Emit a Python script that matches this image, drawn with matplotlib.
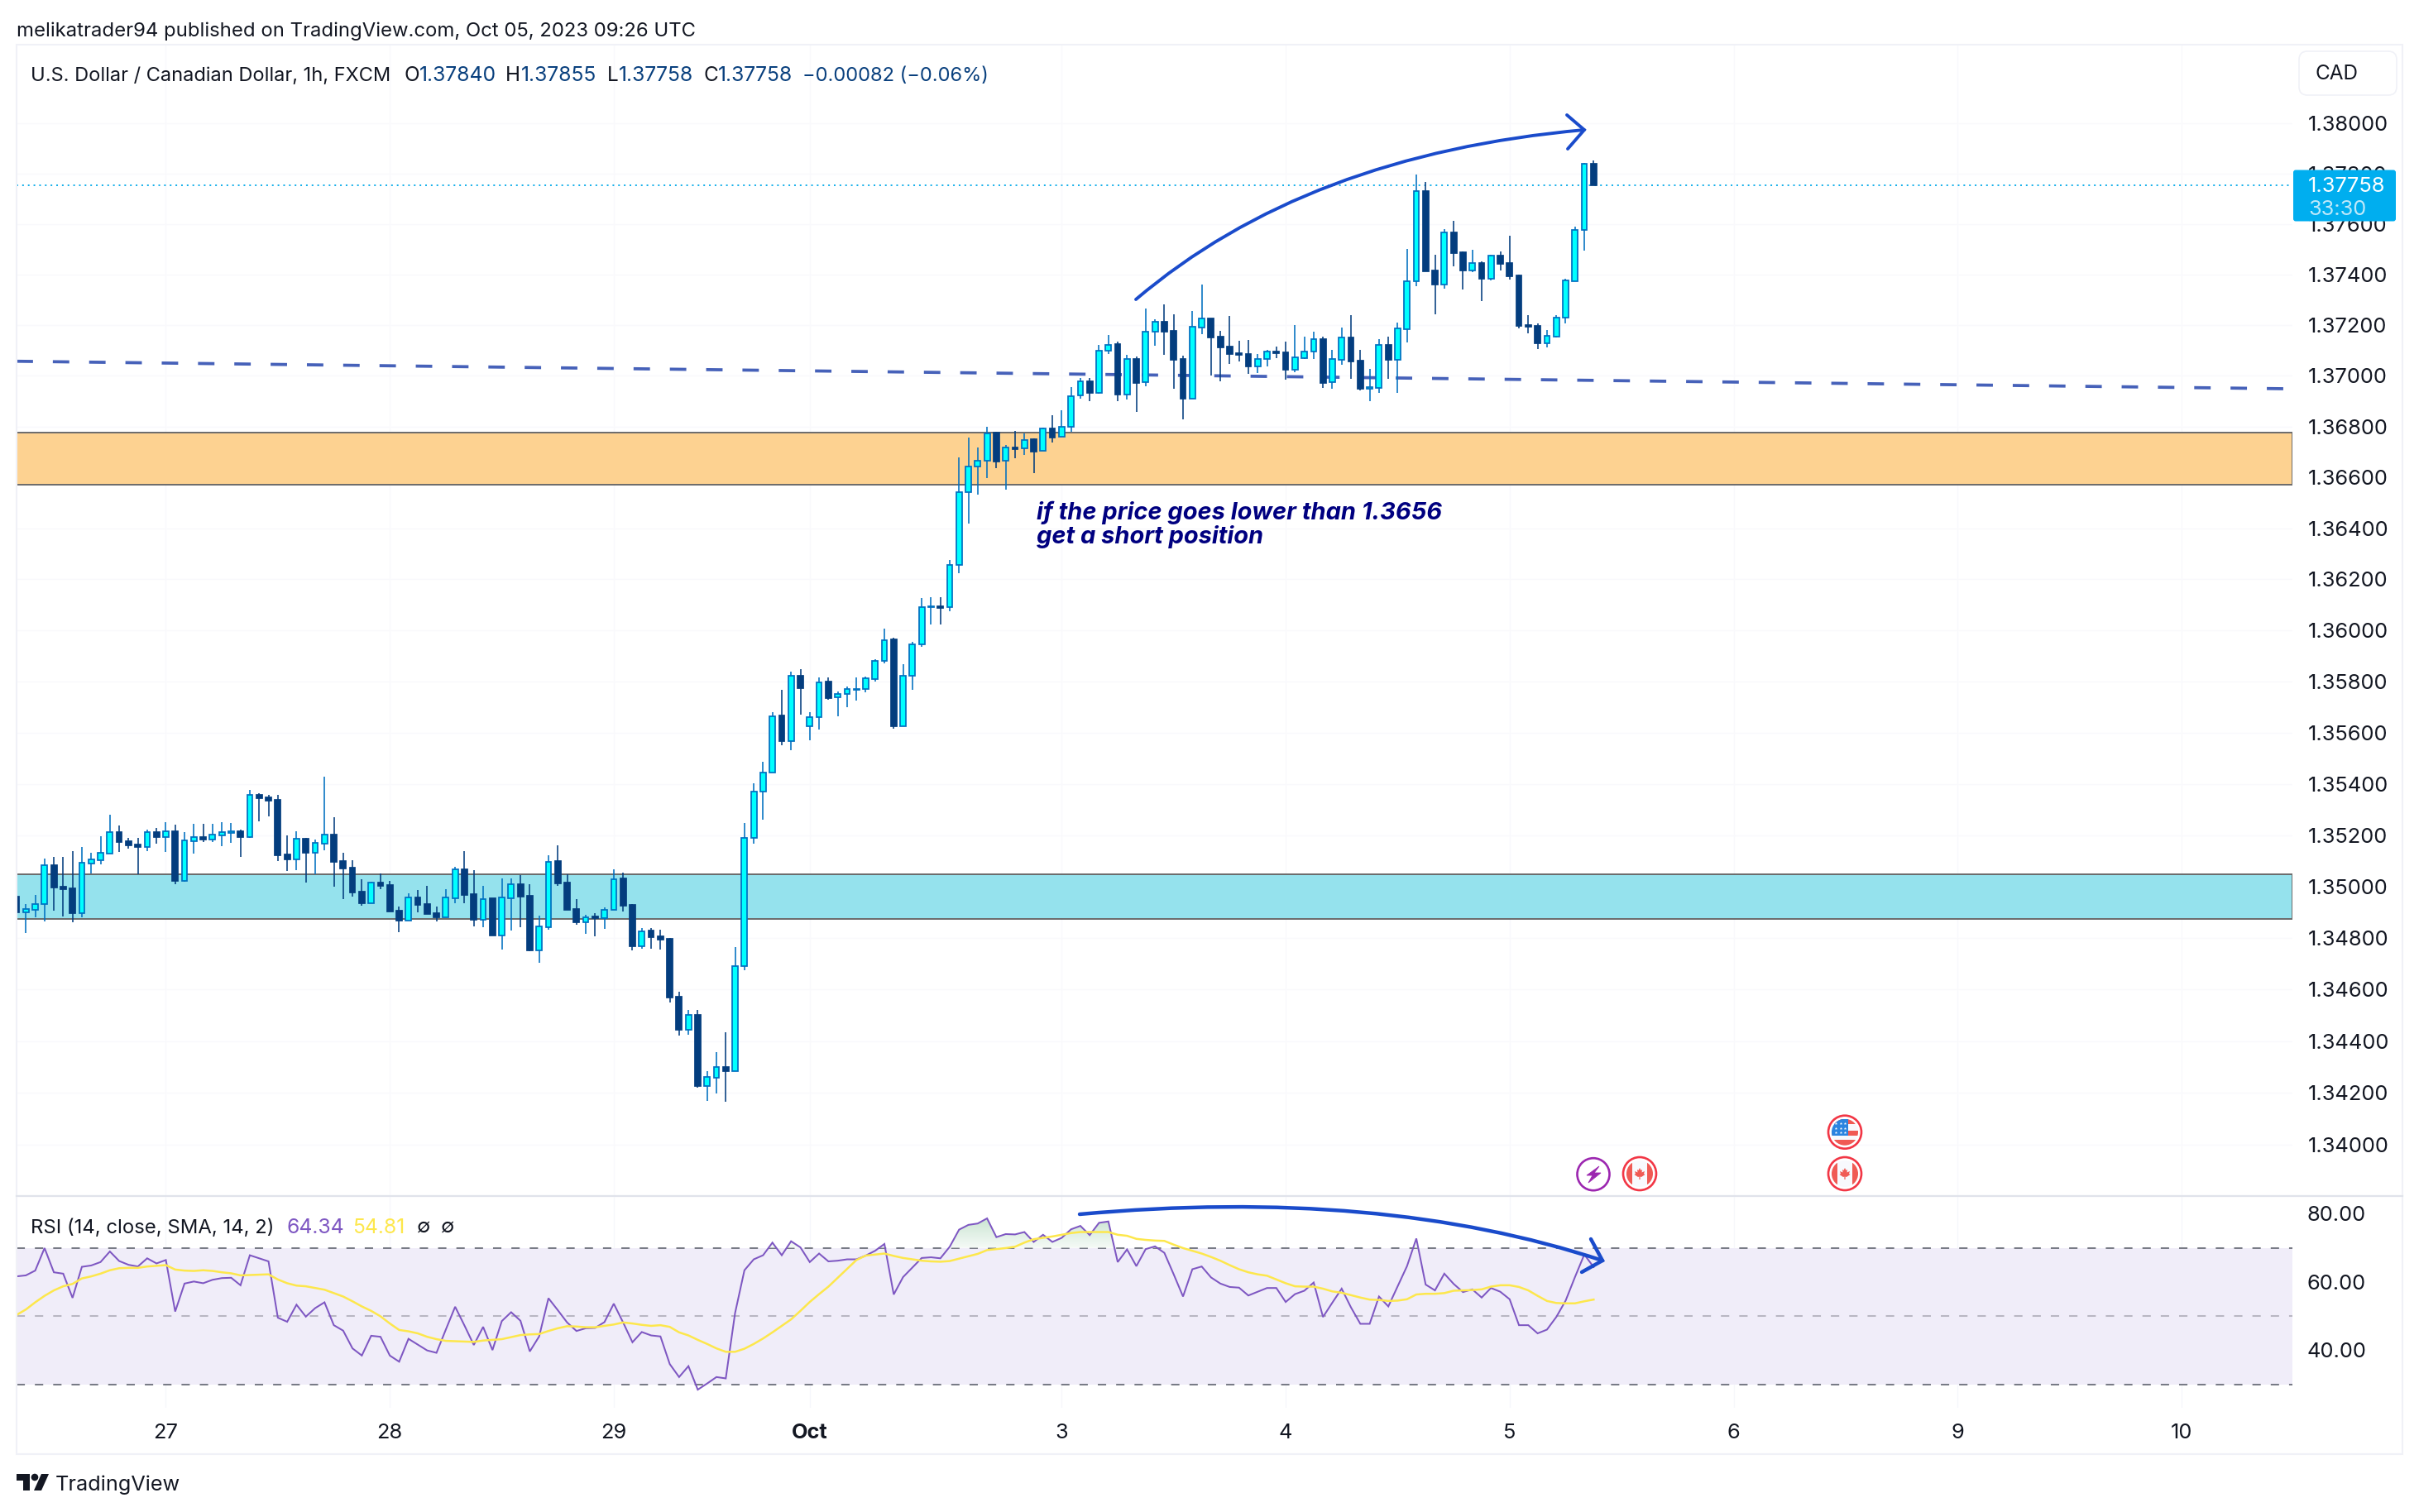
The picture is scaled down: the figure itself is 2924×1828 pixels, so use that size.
import numpy as np
import matplotlib
matplotlib.use("Agg")
import matplotlib.pyplot as plt
from matplotlib.patches import Rectangle, Circle, FancyBboxPatch, PathPatch, Polygon
from matplotlib.path import Path
from matplotlib.ticker import NullFormatter, NullLocator

plt.rcParams['font.family'] = ['Inter', 'DejaVu Sans']

W, H = 2924, 1828

# ---------- data ----------
opens = [1.34971,1.34911,1.34921,1.34944,1.35096,1.35010,1.35003,1.34907,1.35102,1.35114,
1.35141,1.35224,1.35188,1.35175,1.35167,1.35224,1.35204,1.35227,1.35033,1.35188,
1.35204,1.35195,1.35211,1.35221,1.35227,1.35204,1.35370,1.35360,1.35350,1.35136,
1.35117,1.35198,1.35143,1.35178,1.35214,1.35110,1.35084,1.34990,1.34945,1.35026,
1.35016,1.34916,1.34877,1.34968,1.34942,1.34906,1.34890,1.34966,1.35078,1.34981,
1.34880,1.34965,1.34819,1.34965,1.35020,1.34974,1.34760,1.34851,1.35110,1.35026,
1.34922,1.34871,1.34893,1.34887,1.34919,1.35042,1.34939,1.34777,1.34838,1.34816,
1.34806,1.34579,1.34449,1.34508,1.34229,1.34261,1.34304,1.34287,1.34699,1.35203,
1.35384,1.35456,1.35680,1.35582,1.35838,1.35639,1.35673,1.35813,1.35751,1.35764,
1.35781,1.35783,1.35824,1.35896,1.35978,1.35640,1.35838,1.35958,1.36104,1.36110,
1.36104,1.36269,1.36554,1.36655,1.36680,1.36788,1.36677,1.36729,1.36726,1.36763,
1.36716,1.36805,1.36771,1.36812,1.36933,1.36988,1.36945,1.37110,1.37135,1.36939,
1.37076,1.36986,1.37185,1.37223,1.37187,1.37077,1.36922,1.37201,1.37235,1.37164,
1.37125,1.37100,1.37096,1.37048,1.37076,1.37106,1.37103,1.37036,1.37081,1.37105,
1.37155,1.36986,1.37075,1.37161,1.37070,1.36960,1.36963,1.37132,1.37074,1.37195,
1.37380,1.37735,1.37424,1.37370,1.37573,1.37495,1.37425,1.37453,1.37391,1.37482,
1.37453,1.37404,1.37210,1.37206,1.37138,1.37164,1.37240,1.37382,1.37581,1.37840]
highs = [1.34989,1.34941,1.34978,1.35120,1.35127,1.35127,1.35149,1.35165,1.35143,1.35208,
1.35292,1.35250,1.35201,1.35201,1.35233,1.35240,1.35263,1.35253,1.35224,1.35256,
1.35256,1.35256,1.35263,1.35259,1.35233,1.35389,1.35376,1.35370,1.35370,1.35211,
1.35227,1.35201,1.35195,1.35441,1.35282,1.35143,1.35114,1.35039,1.35029,1.35062,
1.35033,1.34932,1.34984,1.34997,1.35013,1.34932,1.35000,1.35088,1.35149,1.35075,
1.35013,1.34965,1.35042,1.35042,1.35055,1.35020,1.34897,1.35133,1.35172,1.35059,
1.34961,1.34900,1.34906,1.34929,1.35078,1.35065,1.34942,1.34848,1.34848,1.34841,
1.34809,1.34598,1.34527,1.34527,1.34287,1.34362,1.34440,1.34773,1.35259,1.35415,
1.35499,1.35693,1.35781,1.35852,1.35862,1.35693,1.35829,1.35829,1.35774,1.35794,
1.35829,1.35833,1.35901,1.36021,1.35985,1.35881,1.35969,1.36140,1.36144,1.36144,
1.36290,1.36691,1.36769,1.36730,1.36811,1.36792,1.36740,1.36795,1.36785,1.36766,
1.36808,1.36857,1.36876,1.36967,1.37002,1.37002,1.37132,1.37171,1.37145,1.37093,
1.37087,1.37274,1.37232,1.37291,1.37252,1.37090,1.37265,1.37368,1.37235,1.37187,
1.37245,1.37148,1.37151,1.37096,1.37112,1.37125,1.37145,1.37210,1.37164,1.37184,
1.37164,1.37112,1.37200,1.37249,1.37112,1.37038,1.37155,1.37164,1.37219,1.37508,
1.37799,1.37770,1.37485,1.37586,1.37618,1.37498,1.37505,1.37459,1.37485,1.37498,
1.37560,1.37407,1.37249,1.37216,1.37190,1.37249,1.37391,1.37595,1.37845,1.37855]
lows = [1.34784,1.34828,1.34890,1.34875,1.34916,1.34893,1.34871,1.34890,1.35062,1.35097,
1.35141,1.35146,1.35159,1.35060,1.35149,1.35178,1.35146,1.35020,1.35029,1.35140,
1.35185,1.35185,1.35169,1.35182,1.35127,1.35201,1.35266,1.35285,1.35110,1.35071,
1.35075,1.35026,1.35060,1.35152,1.35010,1.34961,1.34971,1.34935,1.34945,1.35000,
1.34913,1.34832,1.34877,1.34909,1.34903,1.34874,1.34890,1.34945,1.34945,1.34854,
1.34851,1.34819,1.34764,1.34838,1.34851,1.34757,1.34712,1.34841,1.35013,1.34919,
1.34861,1.34825,1.34816,1.34845,1.34919,1.34913,1.34760,1.34767,1.34767,1.34764,
1.34556,1.34427,1.34430,1.34223,1.34171,1.34200,1.34168,1.34287,1.34683,1.35178,
1.35272,1.35456,1.35564,1.35544,1.35684,1.35583,1.35625,1.35742,1.35677,1.35713,
1.35739,1.35771,1.35813,1.35885,1.35629,1.35640,1.35781,1.35949,1.36037,1.36037,
1.36089,1.36238,1.36432,1.36545,1.36610,1.36649,1.36565,1.36688,1.36701,1.36630,
1.36716,1.36750,1.36771,1.36792,1.36921,1.36912,1.36941,1.37096,1.36912,1.36918,
1.36869,1.36970,1.37129,1.37093,1.36960,1.36840,1.36922,1.37174,1.37012,1.36989,
1.37057,1.37067,1.37019,1.37022,1.37048,1.37080,1.36996,1.37025,1.37077,1.37077,
1.36963,1.36960,1.37054,1.36999,1.36954,1.36912,1.36944,1.36999,1.36944,1.37142,
1.37362,1.37420,1.37252,1.37352,1.37440,1.37349,1.37417,1.37304,1.37385,1.37424,
1.37388,1.37197,1.37177,1.37116,1.37122,1.37161,1.37216,1.37382,1.37501,1.37758]
closes = [1.34911,1.34922,1.34944,1.35096,1.35008,1.35000,1.34906,1.35103,1.35117,1.35142,
1.35223,1.35185,1.35172,1.35165,1.35223,1.35204,1.35226,1.35033,1.35191,1.35204,
1.35195,1.35214,1.35224,1.35227,1.35204,1.35370,1.35357,1.35347,1.35133,1.35117,
1.35198,1.35143,1.35182,1.35214,1.35107,1.35081,1.34987,1.34945,1.35026,1.35013,
1.34913,1.34877,1.34967,1.34939,1.34903,1.34890,1.34967,1.35077,1.34978,1.34880,
1.34963,1.34819,1.34967,1.35019,1.34971,1.34760,1.34854,1.35109,1.35023,1.34919,
1.34871,1.34892,1.34887,1.34921,1.35041,1.34935,1.34777,1.34837,1.34812,1.34803,
1.34576,1.34449,1.34508,1.34229,1.34264,1.34303,1.34287,1.34701,1.35203,1.35384,
1.35456,1.35679,1.35580,1.35838,1.35787,1.35673,1.35812,1.35748,1.35764,1.35783,
1.35785,1.35826,1.35896,1.35977,1.35638,1.35838,1.35958,1.36104,1.36110,1.36103,
1.36269,1.36554,1.36655,1.36680,1.36785,1.36675,1.36729,1.36724,1.36761,1.36714,
1.36804,1.36769,1.36812,1.36932,1.36988,1.36944,1.37110,1.37133,1.36938,1.37076,
1.36983,1.37185,1.37222,1.37184,1.37074,1.36921,1.37202,1.37235,1.37161,1.37122,
1.37096,1.37093,1.37048,1.37076,1.37105,1.37100,1.37035,1.37082,1.37105,1.37154,
1.36983,1.37076,1.37160,1.37067,1.36960,1.36967,1.37131,1.37074,1.37196,1.37380,
1.37733,1.37420,1.37368,1.37571,1.37492,1.37424,1.37452,1.37391,1.37481,1.37449,
1.37401,1.37206,1.37203,1.37138,1.37166,1.37240,1.37384,1.37581,1.37840,1.37758]
rsi = [61.6,61.9,63.3,69.9,62.8,62.4,55.3,64.4,64.8,65.8,
68.9,66.1,65.0,64.5,66.9,65.4,66.4,51.3,59.5,60.1,
59.6,60.6,61.1,61.2,59.0,67.8,66.9,66.0,49.5,48.3,
53.3,49.8,52.3,54.0,47.3,45.7,40.5,38.4,44.2,43.9,
38.4,36.6,43.3,41.6,39.9,39.2,46.0,52.7,47.2,41.5,
46.8,40.0,48.5,51.1,48.6,39.6,44.0,55.2,51.7,48.1,
45.6,46.4,46.5,48.2,53.6,48.1,42.3,45.3,44.3,44.0,
35.9,32.1,35.3,28.4,30.2,32.1,31.7,50.9,63.4,66.6,
67.8,71.5,67.8,71.9,70.1,65.8,68.3,66.0,66.2,66.6,
66.6,67.7,69.1,71.1,56.3,61.4,64.2,67.0,67.2,66.9,
70.3,75.3,76.7,77.1,78.6,73.1,74.0,73.9,74.6,71.7,
73.8,71.7,72.9,75.4,76.4,73.7,77.3,77.7,65.8,69.5,
64.6,69.6,70.4,68.5,62.2,55.7,63.7,64.5,61.3,59.5,
58.5,58.3,56.0,57.1,58.2,58.2,54.1,56.4,57.4,59.8,
49.7,53.9,58.0,52.5,47.7,47.7,55.7,52.8,58.7,64.6,
72.7,59.2,57.5,62.4,59.4,57.0,57.8,55.4,58.2,57.1,
54.9,47.3,47.3,44.9,46.0,49.7,54.5,61.4,68.0,64.34]
rsi_sma = [50.3,51.9,54.0,55.9,57.5,58.7,59.4,61.0,61.6,62.4,
63.4,64.0,64.1,64.1,64.5,64.7,64.9,63.6,63.3,63.2,
63.4,63.2,62.8,62.5,61.9,62.0,62.1,62.2,60.7,59.6,
58.9,58.7,58.2,57.7,56.7,55.7,54.3,52.8,51.5,49.9,
47.8,45.9,45.5,44.9,43.9,43.2,42.7,42.6,42.5,42.4,
42.8,43.0,43.2,43.8,44.4,44.6,44.7,45.6,46.4,47.0,
46.9,46.7,46.7,47.1,47.5,48.1,47.8,47.4,47.1,47.3,
46.8,45.2,44.3,43.0,41.8,40.5,39.5,39.5,40.4,41.8,
43.4,45.2,47.1,49.0,51.5,54.1,56.4,58.6,61.2,63.8,
66.4,67.7,68.0,68.3,67.6,67.0,66.6,66.2,66.0,65.9,
66.1,66.8,67.5,68.2,69.3,69.6,69.9,70.3,71.5,72.5,
72.9,73.3,73.8,74.3,74.6,74.6,74.6,74.6,73.8,73.5,
72.6,72.3,72.1,72.0,70.9,69.9,69.1,68.3,67.3,66.2,
64.9,63.7,62.8,62.2,61.8,60.7,59.6,58.7,58.6,58.6,
58.0,57.2,56.8,56.1,55.4,54.8,54.7,54.4,54.5,54.9,
56.3,56.5,56.5,56.7,57.4,57.5,57.6,57.8,58.6,59.0,
59.0,58.5,57.5,55.9,54.4,53.8,53.7,53.7,54.3,54.81]
price_ticks = [1.34,1.342,1.344,1.346,1.348,1.35,1.352,1.354,1.356,1.358,1.36,1.362,
               1.364,1.366,1.368,1.37,1.372,1.374,1.376,1.378,1.38]
rsi_ticks = [40,60,80]
day_ticks = [16,40,64,85,112,136,160,184,208,232]
day_labels = ['27','28','29','Oct','3','4','5','6','9','10']
supply_zone = (1.36585,1.36789)
demand_zone = (1.34885,1.35060)
trend_x = [0,243.9]
trend_y = [1.37068,1.36960]

# The readings above were taken on an even ruler between 1.34 and 1.38; the chart's
# price axis is logarithmic, so they are re-read onto that log scale here.
LOGSPAN = np.log(1.38/1.34)
def on_log_axis(p):
    return 1.38*np.exp(-(1.38-np.asarray(p))/0.04*LOGSPAN)

# ---------- geometry ----------
fig = plt.figure(figsize=(W/100,H/100),dpi=100,facecolor='white')
def axes_px(x0,y0,x1,y1,**kw):
    return fig.add_axes([x0/W,1-y1/H,(x1-x0)/W,(y1-y0)/H],**kw)

L,R = 20,2771
bar_px = 11.28
idx = np.arange(len(closes))
TXT = '#131722'
FS = 18.3

# ---------- main pane ----------
ax = axes_px(L,54,R,1445.5)
ax.set_xlim(0,(R-L)/bar_px)
ax.set_yscale('log')
def y_to_price(y):
    return 1.38*np.exp(-(y-149)/1235*LOGSPAN)
ax.set_ylim(y_to_price(1445.5),y_to_price(54))
for s in ax.spines.values(): s.set_visible(False)
ax.yaxis.tick_right()
ax.set_yticks(price_ticks)
ax.set_yticklabels(['%.5f'%t for t in price_ticks])
ax.yaxis.set_minor_locator(NullLocator())
ax.yaxis.set_minor_formatter(NullFormatter())
ax.tick_params(axis='y',which='both',length=0,pad=13.5,labelsize=FS,labelcolor=TXT)
ax.set_xticks(day_ticks)
ax.tick_params(axis='x',length=0,labelbottom=False)
ax.grid(True,color='#f9f9fc',lw=1,zorder=0)
ax.set_axisbelow(True)

for z,fc in ((supply_zone,'#fdd291'),(demand_zone,'#95e2ed')):
    ax.axhspan(*on_log_axis(z),facecolor=fc,edgecolor='#6a6a6a',lw=1.4,zorder=1)

ax.plot(trend_x,on_log_axis(trend_y),color='#4661b9',lw=2.7,ls=(0,(5.3,6.4)),zorder=2,dash_capstyle='butt')
ax.axhline(on_log_axis(closes[-1]),color='#00a8e8',lw=1.3,ls=(0,(1.1,2.7)),zorder=2)

o,h,l,c = [on_log_axis(v) for v in (opens,highs,lows,closes)]
up = c>=o
UPE,DNE,UPF = '#0070c0','#033d7e','#00ffff'
ax.vlines(idx[up],l[up],h[up],color=UPE,lw=1.15,zorder=3)
ax.vlines(idx[~up],l[~up],h[~up],color=DNE,lw=1.15,zorder=3)
ax.bar(idx[up],(c-o)[up],bottom=o[up],width=0.6,facecolor=UPF,edgecolor=UPE,lw=1.25,zorder=4)
ax.bar(idx[~up],(c-o)[~up],bottom=o[~up],width=0.6,facecolor=DNE,edgecolor=DNE,lw=1.25,zorder=4)

# ---------- RSI pane ----------
ar = axes_px(L,1446.5,R,1702)
ar.set_xlim(0,(R-L)/bar_px)
k = 4.125
ar.set_ylim(50-(1702-1591)/k,50+(1591-1446.5)/k)
for s in ar.spines.values(): s.set_visible(False)
ar.yaxis.tick_right()
ar.set_yticks(rsi_ticks)
ar.set_yticklabels(['%.2f'%t for t in rsi_ticks])
ar.tick_params(axis='y',length=0,pad=12.5,labelsize=FS,labelcolor=TXT)
ar.set_xticks(day_ticks)
ar.set_xticklabels(day_labels)
ar.tick_params(axis='x',length=0,pad=13.5,labelsize=FS,labelcolor=TXT)
ar.get_xticklabels()[3].set_fontweight('bold')
ar.grid(True,axis='x',color='#f6f7fb',lw=1,zorder=0)
ar.set_axisbelow(True)
ar.axhspan(30,70,facecolor='#f0edf9',edgecolor='none',zorder=1)
for lev,col in ((70,'#787b86'),(30,'#787b86'),(50,'#b8b6c2')):
    ar.axhline(lev,color=col,lw=1.45,ls=(0,(5,6)),zorder=2,dash_capstyle='butt')
rv = np.array(rsi)
poly = ar.fill_between(idx,70,rv,where=rv>70,interpolate=True,facecolor='none',edgecolor='none',zorder=2)
t_ = np.linspace(0,1,50)[:,None,None]
grad = t_*np.array([[[0.96,0.98,0.965]]])+(1-t_)*np.array([[[0.80,0.90,0.83]]])
xl,yl = ar.get_xlim(),ar.get_ylim()
im = ar.imshow(grad,extent=[0,243,70,rv.max()],aspect='auto',origin='upper',zorder=2.2)
im.set_clip_path(Path.make_compound_path(*poly.get_paths()),ar.transData)
ar.set_xlim(xl); ar.set_ylim(yl)
ar.plot(idx,rsi,color='#7e57c2',lw=1.45,zorder=3,solid_joinstyle='miter')
ar.plot(idx,rsi_sma,color='#fde74c',lw=1.8,zorder=4)

# ---------- overlay in figure pixels ----------
ov = fig.add_axes([0,0,1,1],zorder=10)
ov.set_xlim(0,W); ov.set_ylim(H,0); ov.axis('off'); ov.patch.set_alpha(0)

ov.add_patch(Rectangle((20,54),2884,1704,fill=False,ec='#f0f1f7',lw=1.5))
ov.plot([20,2904],[1445.7,1445.7],color='#e0e3eb',lw=1.6)

def T(x,y,s,color=TXT,size=FS,ha='left',**kw):
    return ov.text(x,y,s,color=color,fontsize=size,ha=ha,va='center',**kw)
T(20,38,'melikatrader94 published on TradingView.com, Oct 05, 2023 09:26 UTC',size=17.2)
BL = '#083f7d'
T(37,92,'U.S. Dollar / Canadian Dollar, 1h, FXCM',size=17)
for lx,vx,lab,val in ((489,507,'O','1.37840'),(611,630,'H','1.37855'),(734,748,'L','1.37758'),(850,868,'C','1.37758')):
    T(lx,92,lab,size=17.5); T(vx,92,val,color=BL,size=17.8)
T(970,92,'\u22120.00082 (\u22120.06%)',color=BL,size=17)

T(37,1484.5,'RSI (14, close, SMA, 14, 2)',size=17.2)
T(346,1484.5,'64.34',color='#7e57c2',size=17.8)
T(426,1484.5,'54.81',color='#fde74c',size=17.8)
T(504,1484.5,'\u2205',size=17.2); T(533,1484.5,'\u2205',size=17.2)

# CAD box
ov.add_patch(FancyBboxPatch((2785,68),106,41,boxstyle='round,pad=6,rounding_size=10',fc='white',ec='#f0f1f7',lw=1.2))
T(2798,90,'CAD',size=17.5)
# last price label
ov.add_patch(FancyBboxPatch((2772,205.5),124,62,boxstyle='round,pad=0,rounding_size=3',fc='#00aeef',ec='none'))
T(2790,225,'1.37758',color='white')
T(2790,253,'33:30',color='#bfe9fa')

# annotation
ov.text(1253,620,'if the price goes lower than 1.3656',color='#000080',fontsize=20.9,fontweight='bold',style='italic',va='center')
ov.text(1253,649,'get a short position',color='#000080',fontsize=20.9,fontweight='bold',style='italic',va='center')

# arrows
AR = '#1a4bcb'
def curve(p0,p1,p2,wing1,wing2,lw=2.8):
    ov.add_patch(PathPatch(Path([p0,p1,p2],[Path.MOVETO,Path.CURVE3,Path.CURVE3]),fc='none',ec=AR,lw=lw,capstyle='round'))
    ov.plot([wing1[0],p2[0],wing2[0]],[wing1[1],p2[1],wing2[1]],color=AR,lw=lw,solid_capstyle='round',solid_joinstyle='miter')
curve((1373,362),(1578.5,187),(1915,157),(1894,139),(1895,180))
curve((1305,1468),(1668,1435),(1937,1524),(1923,1498),(1912,1538),lw=3.2)

# event icons
RED,SOFT = '#f23645','#f05a54'
def ring(cx,cy,r,col):
    ov.add_patch(Circle((cx,cy),r,fc='white',ec=col,lw=1.9,zorder=5))
def canada(cx,cy):
    ring(cx,cy,20,RED)
    clip = Circle((cx,cy),16,transform=ov.transData)
    ov.add_patch(Circle((cx,cy),16,fc='#f8f9fd',ec='none',zorder=6))
    for x0 in (cx-16,cx+9):
        p = ov.add_patch(Rectangle((x0,cy-16),7,32,fc=SOFT,ec='none',zorder=7)); p.set_clip_path(clip)
    pts = [(0,-7),(1.5,-4),(3,-5),(2.5,-1.5),(6,-3),(5,0),(6.5,1),(2,4),(0.6,3.5),(0.6,7),(-0.6,7),(-0.6,3.5),(-2,4),(-6.5,1),(-5,0),(-6,-3),(-2.5,-1.5),(-3,-5),(-1.5,-4)]
    ov.add_patch(Polygon([(cx+a,cy+b) for a,b in pts],fc=SOFT,ec='none',zorder=8))
def usa(cx,cy):
    ring(cx,cy,20,RED)
    clip = Circle((cx,cy),16,transform=ov.transData)
    ov.add_patch(Circle((cx,cy),16,fc='#f8f9fd',ec='none',zorder=6))
    for y0,hh in ((-16,6),(-2,6),(9,7)):
        p = ov.add_patch(Rectangle((cx-16,cy+y0),32,hh,fc=SOFT,ec='none',zorder=7)); p.set_clip_path(clip)
    p = ov.add_patch(Rectangle((cx-16,cy-16),19.5,20,fc='#2b84e0',ec='none',zorder=8)); p.set_clip_path(clip)
    sx = [cx-11,cx-5.5,cx]
    sy = [cy-11,cy-5,cy+0.5]
    ov.scatter([a for a in sx for b in sy],[b for a in sx for b in sy],s=7,c='white',marker='*',linewidths=0,zorder=9)
ring(1926,1419.7,19.5,'#9c27b0')
ov.add_patch(Polygon([(1933,1410),(1918,1421),(1925,1421),(1920,1430),(1935,1418),(1927,1418)],fc='#9c27b0',ec='#9c27b0',lw=0.6,zorder=6))
canada(1982,1419); canada(2230,1419); usa(2230,1368.7)

# logo
LOGO = '#131722'
ov.add_patch(Polygon([(20,1782),(36,1782),(36,1802),(27.5,1802),(27.5,1790),(20,1790)],fc=LOGO,ec='none'))
ov.add_patch(Circle((42,1786),4.3,fc=LOGO,ec='none'))
ov.add_patch(Polygon([(50,1782),(59,1782),(50,1802),(41,1802)],fc=LOGO,ec='none'))
T(67,1795.5,'TradingView',size=18.2)

fig.savefig('out.png',dpi=100,facecolor='white')
